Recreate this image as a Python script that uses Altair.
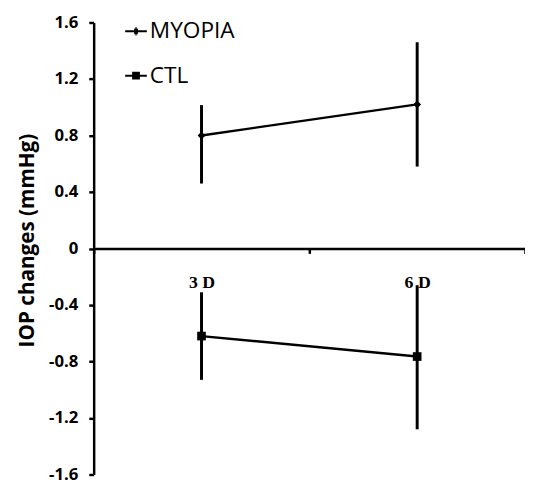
import altair as alt
import pandas as pd

doses = ["3 D", "6 D"]
groups = ["MYOPIA", "CTL"]
myopia_mean = [0.80, 1.02]
myopia_upper = [1.015, 1.46]
myopia_lower = [0.46, 0.58]
ctl_mean = [-0.62, -0.765]
ctl_upper = [-0.31, -0.26]
ctl_lower = [-0.93, -1.28]
y_ticks = [-1.6, -1.2, -0.8, -0.4, 0, 0.4, 0.8, 1.2, 1.6]

rows = []
for g, m, u, l in [("MYOPIA", myopia_mean, myopia_upper, myopia_lower),
                   ("CTL", ctl_mean, ctl_upper, ctl_lower)]:
    for d, mv, uv, lv in zip(doses, m, u, l):
        rows.append(dict(group=g, dose=d, mean=mv, upper=uv, lower=lv))
df = pd.DataFrame(rows)

# filled marker shapes for the plot
diamond_path = "M0,-0.36L0.36,0L0,0.36L-0.36,0Z"
square_path = "M-0.4,-0.4L0.4,-0.4L0.4,0.4L-0.4,0.4Z"
# stroke-drawn legend symbols: line + marker
leg_diamond = ("M-1,0L1,0M-0.34,0L0.34,0M-0.17,-0.17L0.17,-0.17M-0.17,0.17L0.17,0.17"
               "M-0.05,-0.3L0.05,-0.3M-0.05,0.3L0.05,0.3")
leg_square = ("M-1,0L1,0M-0.36,-0.27L0.36,-0.27M-0.36,-0.09L0.36,-0.09"
              "M-0.36,0.09L0.36,0.09M-0.36,0.27L0.36,0.27")

x_enc = alt.X(
    "dose:N", sort=doses,
    scale=alt.Scale(type="band", paddingInner=0, paddingOuter=0),
    axis=alt.Axis(title=None, orient="bottom", offset=-229.5, labelAngle=0,
                  labelFont="Liberation Serif", labelFontWeight="bold",
                  labelFontSize=18, labelPadding=21, tickSize=5, tickWidth=2.5,
                  tickBand="extent", domainWidth=2.5, domainColor="black",
                  tickColor="black", labelColor="black"),
)

y_axis = alt.Axis(values=y_ticks, labelExpr="'' + datum.value",
                  title="IOP changes (mmHg)", titleFont="Open Sans",
                  titleFontWeight="bold", titleFontSize=21, titleColor="black",
                  titleAngle=270, titleX=-67, titleY=221, titleAlign="center",
                  titleBaseline="middle",
                  labelFont="Open Sans", labelFontWeight="bold", labelFontSize=17,
                  labelColor="black", labelPadding=11, tickSize=5, tickWidth=2.5,
                  tickColor="black", domainWidth=2.5, domainColor="black")
y_scale = alt.Scale(domain=[-1.6, 1.6], nice=False, zero=False)

base = alt.Chart(df)

errs = base.mark_rule(color="black", strokeWidth=3).encode(
    x=x_enc,
    y=alt.Y("lower:Q", scale=y_scale, axis=y_axis),
    y2="upper:Q",
)

line = base.mark_line(color="black", strokeWidth=2.4).encode(
    x=x_enc,
    y=alt.Y("mean:Q", scale=y_scale, axis=y_axis),
    detail="group:N",
)

pts = base.mark_point(filled=True, size=484, opacity=1, color="black").encode(
    x=x_enc,
    y=alt.Y("mean:Q", scale=y_scale, axis=y_axis),
    shape=alt.Shape("group:N",
                    scale=alt.Scale(domain=groups, range=[diamond_path, square_path]),
                    legend=None),
)

legend = alt.Legend(
    title=None, orient="none", legendX=31, legendY=-3, padding=0,
    symbolSize=484, symbolStrokeWidth=2, symbolStrokeColor="black",
    symbolOpacity=1, labelFont="Open Sans", labelFontSize=23,
    labelColor="black", rowPadding=21, labelOffset=2,
)

leg = base.mark_point(filled=False, size=484, opacity=0, color="black", strokeWidth=2).encode(
    x=x_enc,
    y=alt.Y("mean:Q", scale=y_scale, axis=y_axis),
    shape=alt.Shape("group:N",
                    scale=alt.Scale(domain=groups, range=[leg_diamond, leg_square]),
                    legend=legend),
)

chart = alt.layer(errs, line, pts, leg).resolve_scale(shape="independent").properties(
    width=438, height=459,
    autosize=alt.AutoSizeParams(type="none"),
    padding={"left": 87, "top": 11, "right": 0, "bottom": 9},
).configure_axis(grid=False).configure_view(stroke=None)

chart.save("out.html", embed_options={"renderer": "svg", "actions": False})
